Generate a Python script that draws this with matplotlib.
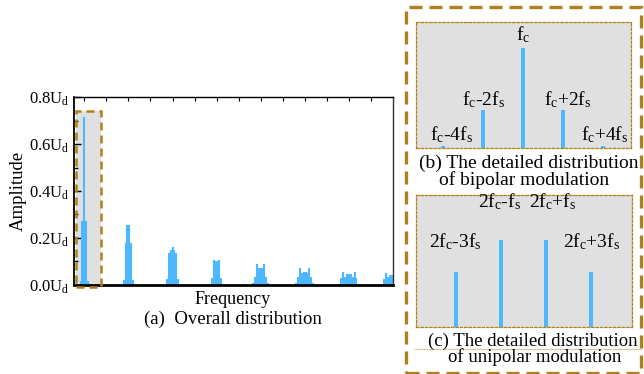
import numpy as np
import matplotlib.pyplot as plt
from matplotlib.patches import Rectangle
from matplotlib.lines import Line2D

plt.rcParams['font.family'] = ['Liberation Serif', 'DejaVu Serif']
plt.rcParams['mathtext.default'] = 'regular'

# (a) overall spectrum: carrier harmonics (in fc), sideband orders (in fs), amplitude (in Ud)
harmonics = [1, 2, 3, 4, 5, 6, 7, 8]
fs = 1 / 46  # sideband spacing in units of fc
sideband_orders = [
    [-4, -2, 0, 2, 4],
    [-5, -3, -1, 1, 3, 5],
    [-6, -4, -2, 0, 2, 4, 6],
    [-7, -5, -3, -1, 1, 3, 5, 7],
    [-8, -6, -4, -2, 0, 2, 4, 6, 8],
    [-9, -7, -5, -3, -1, 1, 3, 5, 7, 9],
    [-10, -8, -6, -4, -2, 0, 2, 4, 6, 8, 10],
    [-11, -9, -7, -5, -3, -1, 1, 3, 5, 7, 9, 11],
]
sideband_amps = [
    [0.015, 0.272, 0.714, 0.272, 0.015],
    [0.02, 0.18, 0.255, 0.255, 0.18, 0.02],
    [0.024, 0.135, 0.149, 0.16, 0.149, 0.135, 0.024],
    [0.005, 0.031, 0.107, 0.1, 0.1, 0.107, 0.031, 0.005],
    [0.007, 0.035, 0.088, 0.074, 0.074, 0.074, 0.088, 0.035, 0.007],
    [0.007, 0.035, 0.071, 0.05, 0.057, 0.057, 0.05, 0.071, 0.035, 0.007],
    [0.005, 0.03, 0.057, 0.035, 0.046, 0.046, 0.046, 0.035, 0.057, 0.03, 0.005],
    [0.005, 0.025, 0.05, 0.035, 0.043, 0.043, 0.043, 0.043, 0.035, 0.05, 0.025, 0.005],
]
yticks = [0.0, 0.2, 0.4, 0.6, 0.8]
ytick_labels = ['0.0U$_d$', '0.2U$_d$', '0.4U$_d$', '0.6U$_d$', '0.8U$_d$']

# (b) bipolar detail around fc (relative amplitude)
b_orders = [-4, -2, 0, 2, 4]
b_amps = [0.02, 0.38, 1.0, 0.38, 0.02]
b_labels = ['f$_c$-4f$_s$', 'f$_c$-2f$_s$', 'f$_c$', 'f$_c$+2f$_s$', 'f$_c$+4f$_s$']

# (c) unipolar detail around 2fc (relative amplitude)
c_orders = [-3, -1, 1, 3]
c_amps = [0.63, 1.0, 1.0, 0.63]
c_labels = ['2f$_c$-3f$_s$', '2f$_c$-f$_s$', '2f$_c$+f$_s$', '2f$_c$+3f$_s$']

blue = '#4db8ff'
gold = '#b0801c'
grey = '#e0e0e0'

fig = plt.figure(figsize=(6.44, 3.74), dpi=100)

# ---- (a) overall distribution ----
ax = fig.add_axes([0.115, 0.238, 0.495, 0.5026])
for h, orders, amps in zip(harmonics, sideband_orders, sideband_amps):
    ax.vlines(h + np.array(orders) * fs, 0, amps, colors=blue, lw=1.5,
              capstyle='butt', zorder=2)
ax.set_xlim(0.766, 8.0)
ax.set_ylim(0, 0.8)

# highlighted region around fc
ax.add_patch(Rectangle((0.811, -0.01), 0.562, 0.752, facecolor=grey,
                       edgecolor='none', zorder=1, clip_on=False))
ax.add_patch(Rectangle((0.811, -0.01), 0.562, 0.752, facecolor='none',
                       edgecolor=gold, lw=1.8, ls=(0, (3.2, 2)), zorder=3,
                       clip_on=False))

ax.set_yticks(yticks)
ax.set_yticklabels(ytick_labels, fontsize=12)
ax.set_yticks(np.arange(0.1, 0.8, 0.2), minor=True)
ax.tick_params(axis='y', which='major', direction='in', length=5, width=1, pad=3)
ax.tick_params(axis='y', which='minor', direction='in', length=3, width=1)
ax.set_xticks(np.arange(1.0, 8.0, 0.5))
ax.tick_params(axis='x', which='both', direction='in', length=3, width=0.8,
               bottom=False, top=True, labelbottom=False)
ax.spines['bottom'].set_linewidth(2)
ax.spines['left'].set_linewidth(1.3)
ax.spines['top'].set_linewidth(1)
ax.spines['right'].set_linewidth(1)
ax.spines['right'].set_edgecolor('#333333')

fig.text(0.028, 0.49, 'Amplitude', rotation=90, ha='center', va='center',
         fontsize=13.5)
fig.text(0.362, 0.198, 'Frequency', ha='center', va='center', fontsize=13)
fig.text(0.362, 0.145, '(a)  Overall distribution', ha='center', va='center',
         fontsize=13.5)

# ---- outer dashed frame ----
fig.patches.append(Rectangle((0.630, 0.004), 0.366, 0.977, transform=fig.transFigure,
                             facecolor='none', edgecolor=gold, lw=2.4,
                             ls=(0, (3.9, 2.1)), zorder=0))


def detail_panel(rect, orders, amps, labels, label_pos, xlim, ylim, bar_w):
    pax = fig.add_axes(rect)
    pax.set_facecolor(grey)
    pax.bar(orders, amps, width=bar_w, color=blue, linewidth=0)
    pax.set_xlim(*xlim)
    pax.set_ylim(*ylim)
    pax.set_xticks([])
    pax.set_yticks([])
    for sp in pax.spines.values():
        sp.set_edgecolor(gold)
        sp.set_linewidth(0.9)
        sp.set_linestyle((0, (2, 1.5)))
    for lab, (x, y) in zip(labels, label_pos):
        pax.text(x, y, lab, ha='center', va='center', fontsize=14)
    return pax


detail_panel([0.646, 0.604, 0.334, 0.337], b_orders, b_amps, b_labels,
             [(-3.6, 0.13), (-2, 0.48), (0, 1.13), (2.25, 0.48), (4.1, 0.13)],
             (-5.35, 5.4), (0, 1.26), 0.2)
fig.text(0.821, 0.564, '(b) The detailed distribution', ha='center', va='center',
         fontsize=14)
fig.text(0.814, 0.519, 'of bipolar modulation', ha='center', va='center',
         fontsize=14)

detail_panel([0.646, 0.1257, 0.335, 0.353], c_orders, c_amps, c_labels,
             [(-3.05, 0.98), (-1.05, 1.44), (1.3, 1.44), (3.05, 0.98)],
             (-4.78, 4.82), (0, 1.517), 0.18)
fig.lines.append(Line2D([0.645, 0.995], [0.067, 0.067], transform=fig.transFigure,
                        color='#d8c8a0', lw=0.8))
fig.text(0.828, 0.087, '(c) The detailed distribution', ha='center', va='center',
         fontsize=13.5)
fig.text(0.831, 0.044, 'of unipolar modulation', ha='center', va='center',
         fontsize=13.5)

fig.savefig('out.png', dpi=100)
